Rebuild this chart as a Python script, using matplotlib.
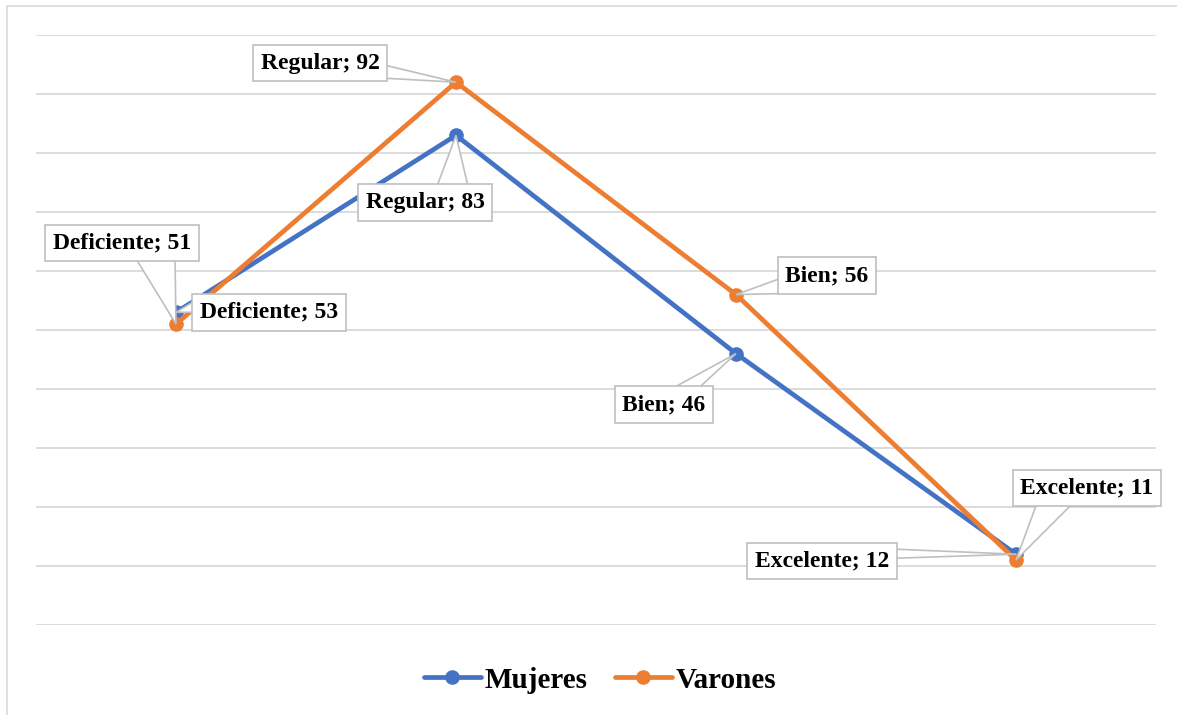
import matplotlib.pyplot as plt
from matplotlib.patches import Rectangle, Polygon
from matplotlib.transforms import Affine2D, ScaledTranslation

plt.rcParams['font.family'] = ['Liberation Serif', 'DejaVu Serif']
plt.rcParams['font.weight'] = 'bold'

categorias = ['Deficiente', 'Regular', 'Bien', 'Excelente']
mujeres = [53, 83, 46, 12]
varones = [51, 92, 56, 11]

# label box centre offsets (pixels, y up)
off_mujeres = [(93, 0), (-31, -67), (-72, -51), (-194, -7)]
off_varones = [(-54, 81), (-136, 19), (91, 19), (71, 72)]
# base corners of each callout pointer (pixels from the point, y up),
# tucked a little inside the box so the box edge hides them
base_mujeres = [((18, 11), (18, 0)), ((-19, -51), (12, -51)),
                ((-64, -35), (-38, -35)), ((-120, 5), (-120, -4))]
base_varones = [((-41, 67), (-1, 67)), ((-71, 17), (-71, 4)),
                ((44, 16), (44, 1)), ((21, 57), (57, 57))]

azul = '#4472C4'
naranja = '#ED7D31'
gris = '#bfbfbf'

W, H = 1177, 715
fig = plt.figure(figsize=(W / 100, H / 100), dpi=100)
ax = fig.add_axes([36 / W, (H - 625) / H, 1120 / W, 590 / H])

x = range(len(categorias))
ax.plot(x, mujeres, color=azul, lw=3.4, marker='o', ms=9.5, label='Mujeres',
        solid_capstyle='round', zorder=2)
ax.plot(x, varones, color=naranja, lw=3.4, marker='o', ms=9.5, label='Varones',
        solid_capstyle='round', zorder=2)

ax.set_xlim(-0.5, 3.5)
ax.set_ylim(0, 100)
ax.set_yticks(range(0, 101, 10))
ax.set_xticks([])
ax.yaxis.grid(True, color='#d9d9d9', lw=1.3)
ax.set_axisbelow(True)
ax.tick_params(left=False, labelleft=False)
for s in ax.spines.values():
    s.set_visible(False)


def etiqueta(i, valores, offs, bases):
    v = valores[i]
    # pointer from the box to the point
    tr = Affine2D() + ScaledTranslation(i, v, ax.transData)
    b1, b2 = bases[i]
    ax.add_patch(Polygon([(0, 0), b1, b2], closed=True, transform=tr,
                         fc='white', ec=gris, lw=1.2, zorder=3))
    ax.annotate(f'{categorias[i]}; {v}', xy=(i, v),
                xytext=offs[i], textcoords='offset pixels',
                ha='center', va='center', fontsize=17, fontweight='bold',
                bbox=dict(boxstyle='square,pad=0.33', fc='white', ec=gris, lw=1.2),
                zorder=4)


for i in range(len(categorias)):
    etiqueta(i, mujeres, off_mujeres, base_mujeres)
    etiqueta(i, varones, off_varones, base_varones)

fig.legend(loc='center', bbox_to_anchor=(600 / W, 1 - 680 / H), ncol=2,
           frameon=False, prop={'size': 21, 'weight': 'bold'},
           handlelength=1.95, handletextpad=0.13, columnspacing=0.95)

# outer chart border
fig.patches.append(Rectangle((7 / W, -0.1), 1.2, 1.1 - 6 / H, transform=fig.transFigure,
                             fill=False, ec='#d9d9d9', lw=1.2))

fig.savefig('out.png', dpi=100)
